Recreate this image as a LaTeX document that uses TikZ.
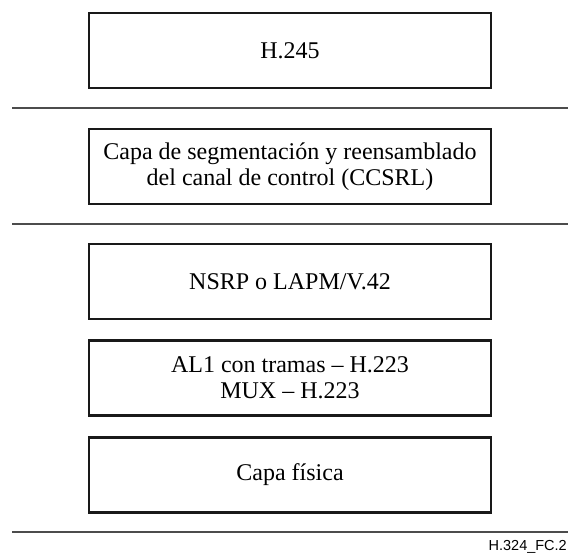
\documentclass[tikz,border=0pt]{standalone}
\usepackage{fontspec}
\setmainfont{Liberation Serif}
\newfontfamily\footfont{Liberation Sans}
\begin{document}
\begin{tikzpicture}[x=1pt,y=-1pt,
  layerbox/.style={draw=black!90, line width=2.4pt, minimum width=402pt, minimum height=75pt,
    inner sep=0pt, align=center, font=\fontsize{24}{26}\selectfont},
  sepline/.style={draw=black!70, line width=1.4pt}]
\useasboundingbox (0,0) rectangle (568,553);
\node[layerbox] (b1) at (290,50.5) {H.245};
\node[layerbox] (b2) at (290,166.5) {Capa de segmentación y reensamblado\\del canal de control (CCSRL)};
\node[layerbox] (b3) at (290,281.5) {NSRP o LAPM/V.42};
\node[layerbox] (b4) at (290,378) {AL1 con tramas – H.223\\MUX – H.223};
\node[layerbox] (b5) at (290,475) {Capa física};
\coordinate (l1a) at (12,108); \coordinate (l1b) at (568,108);
\coordinate (l2a) at (12,224); \coordinate (l2b) at (568,224);
\coordinate (l3a) at (12,532); \coordinate (l3b) at (568,532);
\draw[sepline] (l1a) -- (l1b);
\draw[sepline] (l2a) -- (l2b);
\draw[sepline] (l3a) -- (l3b);
\node[anchor=base east, inner sep=0pt, font=\footfont\fontsize{14.5}{16}\selectfont] (foot) at (567,550) {H.324\_FC.2};
\end{tikzpicture}
\end{document}
